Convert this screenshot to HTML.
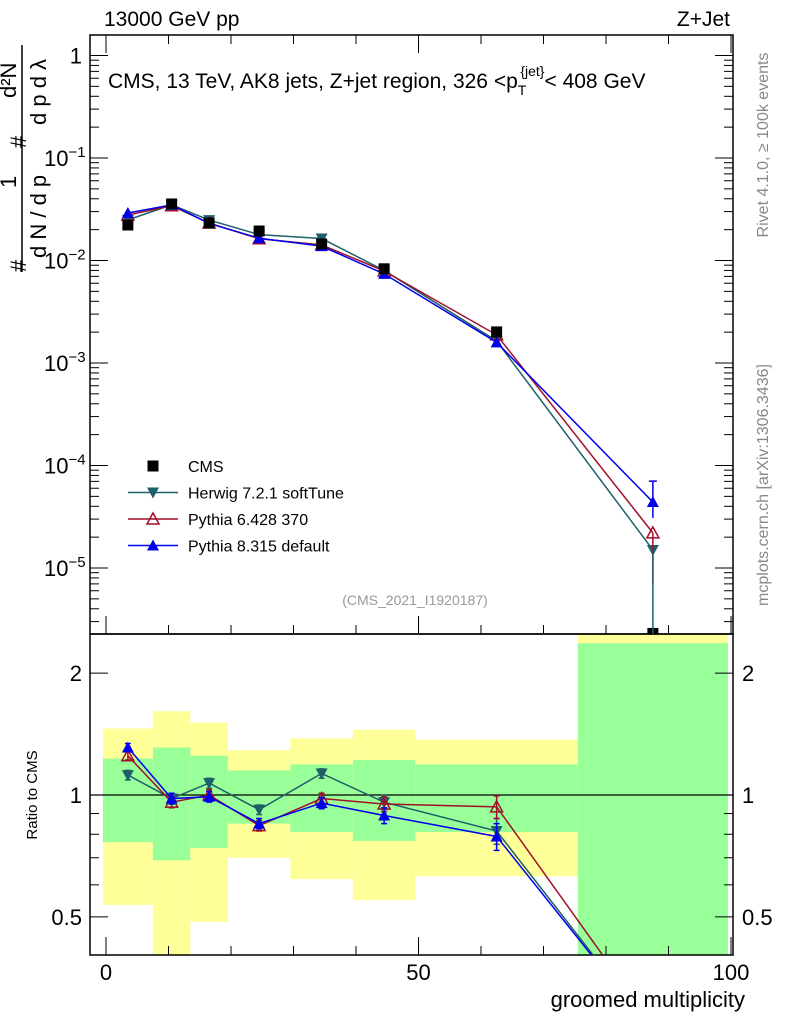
<!DOCTYPE html>
<html><head><meta charset="utf-8"><style>
html,body{margin:0;background:#fff;overflow:hidden;width:786px;height:1024px}
svg{display:block;font-family:"Liberation Sans",sans-serif}
</style></head><body>
<svg id="c" width="786" height="1024" viewBox="0 0 786 1024" xmlns="http://www.w3.org/2000/svg"></svg>
<script>
const binEdges=[-0.5,7.5,13.5,19.5,29.5,39.5,49.5,75.5,99.5];
const binCenters=[3.5,10.5,16.5,24.5,34.5,44.5,62.5,87.5];
const cmsValues=[0.0222,0.0356,0.0232,0.0194,0.0145,0.0083,0.00201,2.3e-6];
const herwigValues=[0.0249,0.0349,0.0248,0.0179,0.0164,0.0080,0.00164,1.5e-5];
const pythia6Values=[0.0278,0.0342,0.0232,0.0163,0.0142,0.0079,0.00188,2.2e-5];
const pythia8Values=[0.0291,0.0349,0.0230,0.0165,0.0138,0.0074,0.00159,4.4e-5];
const herwigRatio=[1.12,0.98,1.07,0.92,1.13,0.96,0.815,0.26];
const pythia6Ratio=[1.25,0.96,1.0,0.84,0.98,0.95,0.935,0.27];
const pythia8Ratio=[1.31,0.98,0.99,0.85,0.955,0.89,0.79,0.26];
const bandYellowHi=[1.46,1.61,1.51,1.29,1.38,1.45,1.37,3];
const bandYellowLo=[0.535,0.2,0.486,0.70,0.62,0.55,0.63,0.01];
const bandGreenHi=[1.23,1.31,1.25,1.15,1.19,1.22,1.19,2.37];
const bandGreenLo=[0.765,0.69,0.74,0.85,0.81,0.77,0.81,0.01];
const ratioErr=[0.03,0.03,0.03,0.025,0.03,0.04,0.06,0];
const xTicks=[0,50,100];
const ratioTicks=[0.5,1,2];

const svg=document.getElementById('c');
const NS='http://www.w3.org/2000/svg';
const L=90,R=733,T=35,MB=634,RB=955;
const X=v=>106+v*6.25;
const Y=v=>158-102.5*(Math.log10(v)+1);
const YR=v=>795-405*Math.log10(v);
function el(t,a,p){const e=document.createElementNS(NS,t);for(const k in a)e.setAttribute(k,a[k]);(p||svg).appendChild(e);return e;}
function txt(s,x,y,a,p){const e=el('text',Object.assign({x:x,y:y},a),p);e.textContent=s;return e;}

const defs=el('defs',{});
const c1=el('clipPath',{id:'cm'},defs);el('rect',{x:L,y:T,width:R-L,height:MB-T},c1);
const c2=el('clipPath',{id:'cr'},defs);el('rect',{x:L,y:MB,width:R-L,height:RB-MB},c2);

const gb=el('g',{'clip-path':'url(#cr)'});


for(let i=0;i<8;i++){
  const x0=X(binEdges[i]),x1=X(binEdges[i+1]);
  const y=el('rect',{x:x0,y:YR(bandYellowHi[i]),width:x1-x0,height:YR(bandYellowLo[i])-YR(bandYellowHi[i]),fill:'#ffff99'},gb);
  
  
  const g=el('rect',{x:x0,y:YR(bandGreenHi[i]),width:x1-x0,height:YR(bandGreenLo[i])-YR(bandGreenHi[i]),fill:'#99ff99'},gb);
  
  
}
el('line',{x1:L,x2:R,y1:YR(1),y2:YR(1),stroke:'#000','stroke-width':1.3});

el('rect',{x:L,y:T,width:R-L,height:MB-T,fill:'none',stroke:'#000','stroke-width':1.5});
el('rect',{x:L,y:MB,width:R-L,height:RB-MB,fill:'none',stroke:'#000','stroke-width':1.5});

for(let d=-6;d<=0;d++){
  for(let m=1;m<10;m++){
    const v=m*Math.pow(10,d);const y=Y(v);
    if(y<T||y>MB)continue;
    const len=m==1?18:9;
    el('line',{x1:L,x2:L+len,y1:y,y2:y,stroke:'#000'});
    el('line',{x1:R,x2:R-len,y1:y,y2:y,stroke:'#000'});
  }
  const y=Y(Math.pow(10,d));
  if(y>=T&&y<=MB){
    if(d==0){const t=txt('1',82,y+8,{'font-size':22,'text-anchor':'end'});}
    else{const t=txt('10',44,y+8,{'font-size':22});const s=el('tspan',{dy:-9,'font-size':15},t);s.textContent='−'+(-d);
      }
  }
}
for(const v of [0.4,0.5,0.6,0.7,0.8,0.9,1,2]){
  const y=YR(v);if(y<MB||y>RB)continue;
  const big=ratioTicks.includes(v);const len=big?18:9;
  el('line',{x1:L,x2:L+len,y1:y,y2:y,stroke:'#000'});
  el('line',{x1:R,x2:R-len,y1:y,y2:y,stroke:'#000'});
}
for(const v of ratioTicks){
  const y=YR(v);
  const a=txt(String(v),82,y+8,{'font-size':22,'text-anchor':'end'});
  
  const b=txt(String(v),742,y+8,{'font-size':22});
  
}
for(let v=0;v<=100;v+=10){
  const x=X(v);const len=v%50==0?18:9;
  el('line',{x1:x,x2:x,y1:RB,y2:RB-len,stroke:'#000'});
  el('line',{x1:x,x2:x,y1:MB,y2:MB-len,stroke:'#000'});
  el('line',{x1:x,x2:x,y1:T,y2:T+len,stroke:'#000'});
}
for(const v of xTicks){const t=txt(String(v),X(v),980,{'font-size':22,'text-anchor':'middle'});
  }

function marker(type,x,y,col,p){
  if(type=='sq')return el('rect',{x:x-5.5,y:y-5.5,width:11,height:11,fill:col},p);
  if(type=='down')return el('polygon',{points:`${x-6},${y-5} ${x+6},${y-5} ${x},${y+6}`,fill:col},p);
  if(type=='up')return el('polygon',{points:`${x-6},${y+5} ${x+6},${y+5} ${x},${y-6}`,fill:col},p);
  if(type=='upo')return el('polygon',{points:`${x-6},${y+5} ${x+6},${y+5} ${x},${y-6}`,fill:'none',stroke:col,'stroke-width':1.5},p);
}
function series(name,vals,fy,col,type,clip,errs){
  const g=el('g',{'clip-path':clip});
  
  
  let d='';
  vals.forEach((v,i)=>{d+=(i?'L':'M')+X(binCenters[i])+','+fy(v);});
  if(col)el('path',{d:d,fill:'none',stroke:col,'stroke-width':1.5},g);
  if(errs)vals.forEach((v,i)=>{if(!errs[i])return;const x=X(binCenters[i]);const a=fy(v+errs[i]),b=fy(v-errs[i]);
    el('path',{d:`M${x},${a}L${x},${b}M${x-3},${a}L${x+3},${a}M${x-3},${b}L${x+3},${b}`,stroke:col,'stroke-width':1.5,fill:'none'},g);});
  vals.forEach((v,i)=>{const m=marker(type,X(binCenters[i]),fy(v),col||'#000',g);
    
    });
  return g;
}
const herwigCol='#1f5f6a',p6Col='#a0102a',p8Col='#0000ee';
series('herwig-main',herwigValues,Y,herwigCol,'down','url(#cm)');
series('pythia6-main',pythia6Values,Y,p6Col,'upo','url(#cm)');
series('pythia8-main',pythia8Values,Y,p8Col,'up','url(#cm)');
series('cms-data',cmsValues,Y,null,'sq','url(#cm)');
const xl=X(binCenters[7]);
el('line',{x1:xl,x2:xl,y1:Y(pythia8Values[7]*1.6),y2:Y(pythia8Values[7]*0.7),stroke:p8Col,'stroke-width':1.5});
el('line',{x1:xl-4,x2:xl+4,y1:Y(pythia8Values[7]*1.6),y2:Y(pythia8Values[7]*1.6),stroke:p8Col,'stroke-width':1.5});
el('line',{x1:xl,x2:xl,y1:Y(pythia6Values[7]),y2:Y(pythia6Values[7]*0.32),stroke:p6Col,'stroke-width':1.5});
el('line',{x1:xl,x2:xl,y1:Y(herwigValues[7]),y2:MB,stroke:herwigCol,'stroke-width':1.5});
series('herwig-ratio',herwigRatio,YR,herwigCol,'down','url(#cr)',ratioErr);
series('pythia6-ratio',pythia6Ratio,YR,p6Col,'upo','url(#cr)',ratioErr);
series('pythia8-ratio',pythia8Ratio,YR,p8Col,'up','url(#cr)',ratioErr);

function T_(s,x,y,a,n){const t=txt(s,x,y,a);return t;}
T_('13000 GeV pp',104,26,{'font-size':21},'energy-label');
T_('Z+Jet',730,26,{'font-size':21,'text-anchor':'end'},'process-label');
const ti=T_('CMS, 13 TeV, AK8 jets, Z+jet region, 326 <p',108,88,{'font-size':21},'plot-title');
let s=el('tspan',{dy:7,'font-size':14},ti);s.textContent='T';
s=el('tspan',{dy:-19,dx:-6,'font-size':14},ti);s.textContent='{jet}';
s=el('tspan',{dy:12,'font-size':21},ti);s.textContent='< 408 GeV';
T_('(CMS_2021_I1920187)',415,605,{'font-size':14,fill:'#999','text-anchor':'middle'},'analysis-id');
T_('Rivet 4.1.0, ≥ 100k events',0,0,{'font-size':16,fill:'#888','text-anchor':'middle',transform:'translate(768,145) rotate(-90)'},'rivet-label');
T_('mcplots.cern.ch [arXiv:1306.3436]',0,0,{'font-size':16,fill:'#888','text-anchor':'middle',transform:'translate(768,485) rotate(-90)'},'mcplots-label');
T_('Ratio to CMS',0,0,{'font-size':15,'text-anchor':'middle',transform:'translate(37,795) rotate(-90)'},'ratio-axis-title');
T_('groomed multiplicity',745,1007,{'font-size':22,'text-anchor':'end'},'x-axis-title');
const ya=el('g',{});


txt('#',0,0,{'font-size':22,transform:'translate(26,272) rotate(-90)'},ya);
txt('1',0,0,{'font-size':22,transform:'translate(16,188) rotate(-90)'},ya);
el('line',{x1:22,x2:22,y1:45,y2:272,stroke:'#000','stroke-width':1.5},ya);
txt('d N / d p',0,0,{'font-size':22,transform:'translate(46,258) rotate(-90)'},ya);
txt('#',0,0,{'font-size':22,transform:'translate(26,148) rotate(-90)'},ya);
txt('d²N',0,0,{'font-size':22,transform:'translate(16,98) rotate(-90)'},ya);
txt('d p   d λ',0,0,{'font-size':22,transform:'translate(46,125) rotate(-90)'},ya);

const leg=el('g',{});


const items=[['CMS',null,'sq'],['Herwig 7.2.1 softTune',herwigCol,'down'],['Pythia 6.428 370',p6Col,'upo'],['Pythia 8.315 default',p8Col,'up']];
items.forEach((it,i)=>{
  const y=466+i*26.5;
  const g=el('g',{},leg);
  
  
  if(it[1])el('line',{x1:128,x2:178,y1:y,y2:y,stroke:it[1],'stroke-width':1.5},g);
  marker(it[2],153,y,it[1]||'#000',g);
  txt(it[0],188,y+6,{'font-size':16},g);
});
</script>
</body></html>
